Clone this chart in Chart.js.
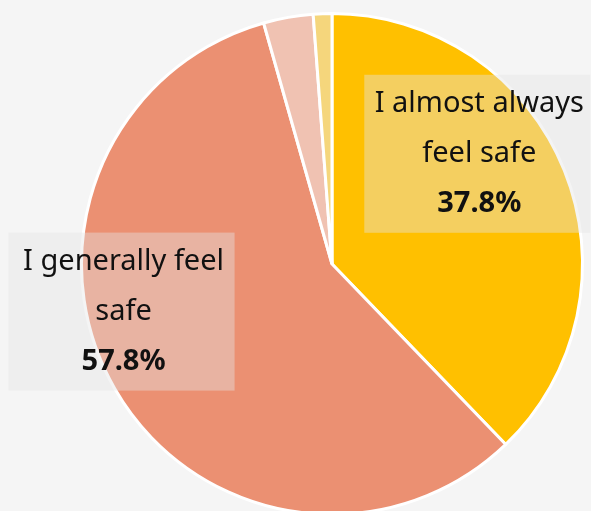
<!DOCTYPE html>
<html>
<head>
<meta charset="utf-8">
<script src="https://cdn.jsdelivr.net/npm/chart.js@4/dist/chart.umd.min.js"></script>
<style>
  html, body { margin: 0; padding: 0; background: #f5f5f5; overflow: hidden; }
  #wrap { width: 591px; height: 511px; overflow: hidden; }
</style>
</head>
<body>
<div id="wrap"><canvas id="safetyChart" width="591" height="516"></canvas></div>
<script>
const categories = ['I almost always feel safe', 'I generally feel safe', 'I generally feel unsafe', 'I almost always feel unsafe'];
const shares = [37.8, 57.8, 3.2, 1.2];
const colours = ['#ffc000', '#eb9072', '#f0c2b2', '#f5d67c'];
// which slices get a label box, with line-wrapped text
const labelLines = [['I almost always', 'feel safe'], ['I generally feel', 'safe'], null, null];
// label box offset from pie centre, in fractions of the radius
const labelOffsets = [[0.58, -0.44], [-0.84, 0.19], null, null];

const boxLabels = {
    id: 'boxLabels',
    afterDatasetsDraw(chart) {
        const ctx = chart.ctx;
        const meta = chart.getDatasetMeta(0);
        meta.data.forEach((arc, i) => {
            if (!labelLines[i]) return;
            const r = arc.outerRadius;
            const cx = arc.x + labelOffsets[i][0] * r;
            const cy = arc.y + labelOffsets[i][1] * r;
            const w = 226, h = 158;
            ctx.save();
            ctx.fillStyle = 'rgba(228,228,228,0.42)';
            ctx.fillRect(cx - w / 2, cy - h / 2, w, h);
            ctx.fillStyle = '#111';
            ctx.textAlign = 'center';
            ctx.textBaseline = 'middle';
            ctx.font = '29px "Noto Sans"';
            ctx.fillText(labelLines[i][0], cx + 2, cy - 50);
            ctx.fillText(labelLines[i][1], cx + 2, cy);
            ctx.font = 'bold 29px "Noto Sans"';
            ctx.fillText(shares[i].toFixed(1) + '%', cx + 2, cy + 50);
            ctx.restore();
        });
    }
};

new Chart(document.getElementById('safetyChart'), {
    type: 'pie',
    data: {
        labels: categories,
        datasets: [{
            data: shares,
            backgroundColor: colours,
            borderColor: '#ffffff',
            borderWidth: 3
        }]
    },
    options: {
        responsive: false,
        animation: false,
        layout: {padding: {left: 73, right: 0, top: 12, bottom: 0}},
        plugins: {
            legend: {display: false},
            tooltip: {enabled: false}
        }
    },
    plugins: [boxLabels]
});
</script>
</body>
</html>
